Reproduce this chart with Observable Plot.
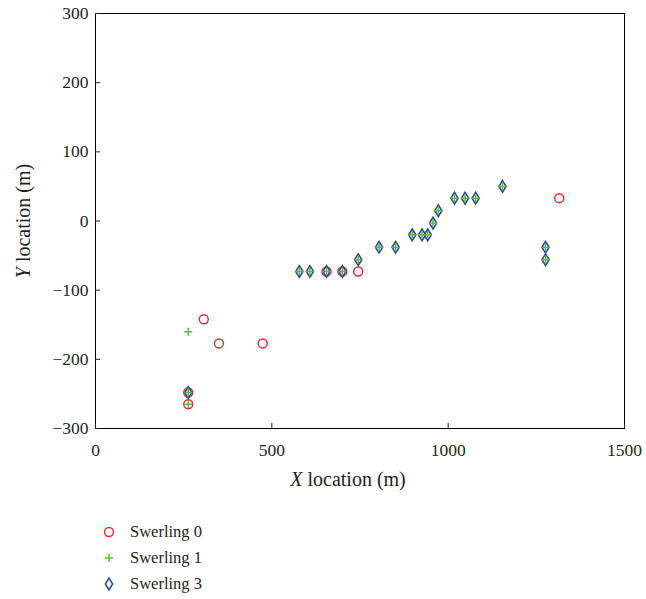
<!DOCTYPE html>
<html>
<head>
<meta charset="utf-8">
<script src="https://cdn.jsdelivr.net/npm/d3@7"></script>
<script src="https://cdn.jsdelivr.net/npm/@observablehq/plot@0.6"></script>
<style>
  body { margin: 0; background: #fff; font-family: "Liberation Serif", serif; }
  #chart svg, #chart svg text { font-family: "Liberation Serif", serif !important; }
  #legend { margin-left: 102px; margin-top: 24px; font-size: 16.5px; color: #231f20; }
  .row { display: flex; align-items: center; height: 26px; }
  .row svg { margin-right: 14px; }
</style>
</head>
<body>
<div id="chart"></div>
<div id="legend"></div>
<script>
// Series: Swerling 0 (red circles)
const s0X = [263, 263, 307, 350, 474, 655, 700, 745, 1315];
const s0Y = [-265, -248, -142, -177, -177, -73, -73, -73, 33];
// Swerling 1 (green plus)
const s1X = [263, 263, 263, 578, 608, 655, 700, 745, 804, 851, 898, 926, 942, 957, 972, 1018, 1048, 1078, 1154, 1276, 1276];
const s1Y = [-265, -160, -248, -73, -73, -73, -73, -56, -38, -38, -20, -20, -20, -3, 15, 33, 33, 33, 50, -38, -56];
// Swerling 3 (blue diamonds)
const s3X = [263, 578, 608, 655, 700, 745, 804, 851, 898, 926, 942, 957, 972, 1018, 1048, 1078, 1154, 1276, 1276];
const s3Y = [-248, -73, -73, -73, -73, -56, -38, -38, -20, -20, -20, -3, 15, 33, 33, 33, 50, -38, -56];

const xTicks = [0, 500, 1000, 1500];
const yTicks = [-300, -200, -100, 0, 100, 200, 300];
const legendLabels = ["Swerling 0", "Swerling 1", "Swerling 3"];
const xLabel = ["X", " location (m)"];
const yLabel = ["Y", " location (m)"];

const C0 = "#e8262d", C1 = "#5cb845", C3 = "#2c4a9c";

const toRows = (xs, ys) => xs.map((x, i) => ({x, y: ys[i]}));
const d0 = toRows(s0X, s0Y), d1 = toRows(s1X, s1Y), d3r = toRows(s3X, s3Y);
const fmt = d => d < 0 ? "\u2212" + (-d) : String(d);

// Elongated diamond symbol
const tallDiamond = {
  draw(ctx, size) {
    const w = 3.6, h = 5.8;
    ctx.moveTo(0, -h); ctx.lineTo(w, 0); ctx.lineTo(0, h); ctx.lineTo(-w, 0); ctx.closePath();
  }
};
const plusSym = {
  draw(ctx, size) {
    const r = 4;
    ctx.moveTo(-r, 0); ctx.lineTo(r, 0); ctx.moveTo(0, -r); ctx.lineTo(0, r);
  }
};

const chart = Plot.plot({
  width: 646,
  height: 495,
  marginLeft: 95,
  marginRight: 22,
  marginTop: 13,
  marginBottom: 67,
  style: { fontFamily: "'Liberation Serif', serif", fontSize: "17.5px", color: "#231f20", background: "#fff" },
  x: { domain: [0, 1500], ticks: xTicks },
  y: { domain: [-300, 300], ticks: yTicks },
  marks: [
    Plot.frame({ stroke: "#000", strokeWidth: 1 }),
    Plot.axisX({ ticks: xTicks, tickFormat: fmt, tickSize: -5, tickPadding: 20, fontSize: 17.5, label: null }),
    Plot.axisX({ ticks: [], tickSize: 0, label: "X location (m)", labelAnchor: "center", labelOffset: 57, fontSize: 20 }),
    Plot.axisY({ ticks: yTicks, tickFormat: fmt, tickSize: -5, tickPadding: 12, fontSize: 17.5, label: null }),
    Plot.axisY({ ticks: [], tickSize: 0, label: "Y location (m)", labelAnchor: "center", labelOffset: 80, fontSize: 20 }),
    Plot.dot(d0, { x: "x", y: "y", r: 4.5, stroke: C0, strokeWidth: 1.4, fill: "none" }),
    Plot.dot(d3r, { x: "x", y: "y", symbol: tallDiamond, stroke: C3, strokeWidth: 1.6, fill: "none" }),
    Plot.dot(d1, { x: "x", y: "y", symbol: plusSym, stroke: C1, strokeWidth: 1.5, fill: "none" })
  ]
});
document.getElementById("chart").appendChild(chart);

// Italicize the axis variable letters (and drop any arrow)
[["x-axis label", xLabel, -12], ["y-axis label", yLabel, 0]].forEach(([name, parts, shift]) => {
  d3.select(chart).selectAll(`g[aria-label='${name}'] text`).each(function() {
    const t = d3.select(this);
    t.text(null);
    t.append("tspan").attr("font-style", "italic").text(parts[0]);
    t.append("tspan").text(parts[1]);
    if (shift) {
      const tr = t.attr("transform") || "";
      t.attr("transform", `translate(${shift},0) ` + tr);
    }
  });
});

// Legend
const legend = document.getElementById("legend");
const markers = [
  `<circle cx="7" cy="7" r="4.5" fill="none" stroke="${C0}" stroke-width="1.4"/>`,
  `<path d="M3,7H11M7,3V11" stroke="${C1}" stroke-width="1.5"/>`,
  `<path d="M7,1.2L10.6,7L7,12.8L3.4,7Z" fill="none" stroke="${C3}" stroke-width="1.6"/>`
];
legendLabels.forEach((lab, i) => {
  const row = document.createElement("div");
  row.className = "row";
  row.innerHTML = `<svg width="14" height="14">${markers[i]}</svg><span>${lab}</span>`;
  legend.appendChild(row);
});
</script>
</body>
</html>
